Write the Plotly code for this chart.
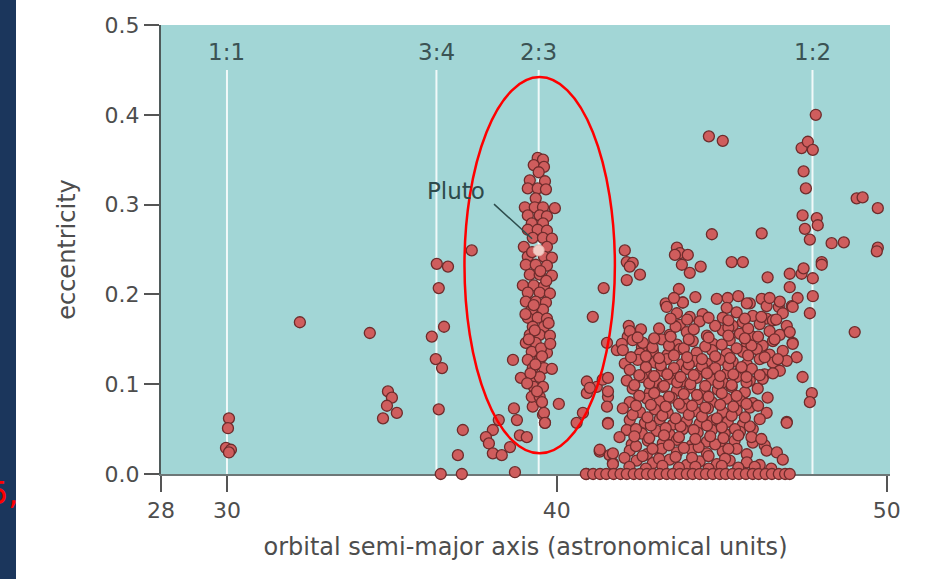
import plotly.graph_objects as go

# ---------------- data ----------------
res_labels = ["1:1", "3:4", "2:3", "1:2"]
res_a = [30.0, 36.35, 39.45, 47.75]

x_ticks = [28, 30, 40, 50]
y_ticks = [0.0, 0.1, 0.2, 0.3, 0.4, 0.5]

trojan_a = [30.06, 30.03, 29.97, 30.12, 30.06]
trojan_e = [0.062, 0.051, 0.029, 0.027, 0.024]

inner_a = [32.21, 34.33, 34.88, 35.0, 34.85, 35.15, 34.73, 36.36, 36.70, 36.42,
           36.58, 36.21, 36.33, 36.52, 36.42, 36.48, 37.12, 37.0, 37.15, 37.42]
inner_e = [0.169, 0.157, 0.092, 0.085, 0.076, 0.068, 0.062, 0.234, 0.231, 0.207,
           0.164, 0.153, 0.128, 0.118, 0.072, 0.0, 0.0, 0.021, 0.049, 0.249]

near_a = [38.67, 38.91, 40.06, 38.7, 38.79, 38.24, 38.06, 37.85, 37.94, 38.06,
          38.33, 38.58, 38.88, 39.09, 38.73, 39.58, 39.64, 39.27, 40.79, 40.6,
          40.91, 41.21, 41.39, 41.55, 41.52, 41.55, 41.3, 41.6, 41.7, 41.82, 40.9]
near_e = [0.127, 0.107, 0.078, 0.073, 0.06, 0.06, 0.049, 0.041, 0.034, 0.023,
          0.021, 0.030, 0.043, 0.041, 0.002, 0.066, 0.057, 0.075, 0.068, 0.057,
          0.09, 0.097, 0.105, 0.086, 0.075, 0.057, 0.025, 0.021, 0.012, 0.138, 0.0]

plutino_a = [39.42, 39.58, 39.30, 39.61, 39.45, 39.18, 39.64, 39.12, 39.42, 39.67,
             39.36, 39.03, 39.33, 39.58, 39.94, 39.12, 39.48, 39.70, 39.24, 39.58,
             39.12, 39.42, 39.70, 39.27, 39.58, 39.85, 39.00, 39.70, 39.12, 39.61,
             39.85, 39.06, 39.36, 39.70, 39.18, 39.48, 39.85, 38.97, 39.30, 39.61,
             39.12, 39.48, 39.79, 39.06, 39.36, 39.67, 39.24, 39.58, 39.12, 39.42,
             39.70, 39.27, 39.61, 39.18, 39.48, 39.79, 39.06, 39.36, 39.24, 39.58,
             39.70, 39.12, 39.48, 39.27, 39.61, 39.85, 39.24, 39.48, 39.30, 39.58,
             39.24, 39.48, 39.61, 39.64, 39.33, 39.52, 39.20, 39.40, 39.55, 39.30,
             39.05, 39.75, 39.15, 39.55, 39.35, 39.80, 39.10, 39.50, 39.25, 39.68]
plutino_e = [0.352, 0.350, 0.344, 0.342, 0.336, 0.327, 0.326, 0.318, 0.318, 0.317,
             0.307, 0.297, 0.297, 0.297, 0.296, 0.288, 0.288, 0.287, 0.279, 0.279,
             0.272, 0.272, 0.271, 0.263, 0.263, 0.262, 0.253, 0.253, 0.242, 0.242,
             0.241, 0.233, 0.233, 0.232, 0.222, 0.222, 0.221, 0.210, 0.210, 0.209,
             0.202, 0.202, 0.201, 0.192, 0.192, 0.191, 0.183, 0.183, 0.174, 0.174,
             0.173, 0.164, 0.164, 0.155, 0.155, 0.154, 0.146, 0.146, 0.136, 0.136,
             0.135, 0.127, 0.127, 0.118, 0.118, 0.117, 0.108, 0.108, 0.097, 0.097,
             0.086, 0.086, 0.068, 0.057, 0.160, 0.140, 0.112, 0.092, 0.080, 0.188,
             0.178, 0.168, 0.150, 0.131, 0.122, 0.145, 0.101, 0.226, 0.247, 0.215]

outer_a = [42.06, 42.12, 42.30, 42.21, 42.52, 42.12, 41.42, 41.09, 43.64, 43.73,
           43.58, 43.97, 43.79, 44.03, 44.36, 44.70, 46.21, 45.30, 45.64, 46.39,
           43.70, 45.18, 43.30, 43.82, 45.85, 46.21, 46.73, 47.12, 47.30, 47.06,
           47.06, 47.42, 47.76, 47.76, 47.67, 47.45, 47.88, 47.91, 47.52, 47.67,
           48.03, 48.03, 48.33, 48.70, 49.73, 49.73, 49.70, 49.03, 42.18, 42.55,
           42.15, 41.52, 42.58, 47.45, 47.73, 47.67, 46.97, 47.27, 47.15, 47.85,
           44.61, 45.03, 47.42, 47.61, 47.76, 47.48, 47.55, 49.09, 49.27, 47.48]
outer_e = [0.249, 0.236, 0.235, 0.231, 0.222, 0.216, 0.207, 0.175, 0.252, 0.246,
           0.244, 0.244, 0.233, 0.224, 0.231, 0.267, 0.268, 0.236, 0.236, 0.219,
           0.206, 0.196, 0.190, 0.191, 0.190, 0.195, 0.186, 0.187, 0.196, 0.208,
           0.223, 0.223, 0.218, 0.198, 0.179, 0.288, 0.285, 0.277, 0.273, 0.261,
           0.236, 0.233, 0.257, 0.258, 0.296, 0.252, 0.248, 0.158, 0.165, 0.161,
           0.153, 0.146, 0.141, 0.108, 0.090, 0.080, 0.058, 0.130, 0.146, 0.400,
           0.376, 0.371, 0.363, 0.370, 0.361, 0.337, 0.318, 0.307, 0.308, 0.229]

core_a = [43.33, 43.82, 45.15, 45.76, 46.36, 46.76, 47.15,
          43.64, 44.03, 44.42, 45.03, 45.45, 45.94, 46.36, 46.85,
          43.73, 44.33, 45.33, 45.64, 46.15, 46.55, 46.97,
          42.21, 43.42, 43.94, 44.55, 45.03, 45.55, 45.94, 46.45, 46.76, 47.06,
          41.97, 42.30, 42.61, 43.18, 43.64, 44.12, 44.73, 45.24, 45.76, 46.24, 46.55, 47.15,
          42.00, 42.52, 42.91, 43.36, 43.73, 44.24, 44.70, 45.15, 45.64, 46.06, 46.45, 46.85,
          42.06, 42.45, 42.97, 43.33, 43.79, 44.18, 44.55, 44.94, 45.33, 45.76, 46.15, 46.55, 46.97,
          42.21, 42.73, 43.18, 43.52, 43.94, 44.33, 44.73, 45.15, 45.55, 45.91, 46.30, 46.76,
          40.91, 41.55, 42.12, 42.58, 43.03, 43.42, 43.82, 44.24, 44.70, 45.03, 45.45, 45.85, 46.24,
          41.00, 41.55, 42.30, 42.82, 43.21, 43.64, 44.03, 44.48, 44.88, 45.30, 45.70, 46.09,
          42.21, 42.73, 43.12, 43.48, 43.88, 44.27, 44.70, 45.15, 45.55, 45.94, 46.39,
          42.00, 42.52, 42.97, 43.36, 43.79, 44.18, 44.58, 45.03, 45.45, 45.85, 46.36,
          41.55, 42.21, 42.67, 43.12, 43.52, 43.94, 44.33, 44.73, 45.18, 45.64, 46.15, 46.97,
          42.12, 42.58, 43.03, 43.42, 43.82, 44.27, 44.70, 45.09, 45.55, 45.94,
          42.27, 42.76, 43.21, 43.64, 44.09, 44.55, 44.94, 45.39, 45.94, 46.30,
          41.30, 41.70, 42.21, 42.73, 43.18, 43.64, 44.09, 44.55, 45.03, 45.45, 45.76, 46.36, 46.67,
          41.70, 42.42, 42.91, 43.42, 43.94, 44.33, 44.85, 45.24, 45.76, 46.15, 46.85]
core_e = [0.186, 0.191, 0.185, 0.190, 0.187, 0.192, 0.186,
          0.179, 0.175, 0.178, 0.174, 0.180, 0.176, 0.173, 0.179,
          0.166, 0.170, 0.165, 0.169, 0.167, 0.171, 0.165,
          0.159, 0.155, 0.158, 0.154, 0.160, 0.156, 0.153, 0.159, 0.155, 0.158,
          0.145, 0.149, 0.146, 0.150, 0.144, 0.148, 0.145, 0.149, 0.146, 0.143, 0.148, 0.145,
          0.138, 0.134, 0.137, 0.133, 0.139, 0.135, 0.138, 0.134, 0.136, 0.139, 0.133, 0.137,
          0.123, 0.127, 0.124, 0.128, 0.122, 0.126, 0.123, 0.127, 0.125, 0.122, 0.128, 0.124, 0.126,
          0.116, 0.112, 0.115, 0.111, 0.117, 0.113, 0.116, 0.112, 0.114, 0.117, 0.111, 0.115,
          0.103, 0.107, 0.104, 0.108, 0.102, 0.106, 0.103, 0.107, 0.105, 0.102, 0.108, 0.104, 0.106,
          0.096, 0.092, 0.095, 0.091, 0.097, 0.093, 0.096, 0.092, 0.094, 0.097, 0.091, 0.095,
          0.080, 0.084, 0.081, 0.085, 0.079, 0.083, 0.080, 0.084, 0.082, 0.079, 0.085,
          0.073, 0.069, 0.072, 0.068, 0.074, 0.070, 0.073, 0.069, 0.071, 0.074, 0.068,
          0.056, 0.060, 0.057, 0.061, 0.055, 0.059, 0.056, 0.060, 0.058, 0.055, 0.061, 0.057,
          0.049, 0.045, 0.048, 0.044, 0.050, 0.046, 0.049, 0.045, 0.047, 0.050,
          0.033, 0.037, 0.034, 0.038, 0.032, 0.036, 0.033, 0.037, 0.035, 0.032,
          0.027, 0.023, 0.026, 0.022, 0.028, 0.024, 0.027, 0.023, 0.025, 0.028, 0.022, 0.026, 0.024,
          0.011, 0.015, 0.012, 0.016, 0.010, 0.014, 0.011, 0.015, 0.013, 0.010, 0.016]

fill_a = [42.40, 42.90, 43.40, 43.85, 44.30, 44.80, 45.20,
          42.40, 42.85, 43.30, 43.75, 44.15, 44.55, 45.00, 45.40, 45.85,
          42.30, 42.75, 43.20, 43.60, 44.00, 44.40, 44.85, 45.30, 45.70,
          42.50, 42.95, 43.40, 43.85, 44.25, 44.60, 45.00, 45.45,
          42.35, 42.80, 43.25, 43.65, 44.05, 44.50, 44.90, 45.30, 45.75,
          42.70, 43.15, 43.55, 44.00, 44.40, 44.80, 45.20, 45.60,
          42.90, 43.40, 43.85, 44.50, 45.00, 45.45, 45.90,
          43.10, 43.60, 44.15, 44.80, 45.20, 45.80,
          42.05, 42.60, 43.10, 43.60, 44.10, 44.60, 45.10]
fill_e = [0.031, 0.028, 0.032, 0.029, 0.030, 0.033, 0.028,
          0.050, 0.054, 0.051, 0.053, 0.049, 0.054, 0.052, 0.050, 0.053,
          0.066, 0.063, 0.065, 0.062, 0.066, 0.064, 0.062, 0.065, 0.063,
          0.087, 0.090, 0.086, 0.089, 0.088, 0.086, 0.090, 0.087,
          0.099, 0.101, 0.098, 0.102, 0.100, 0.098, 0.101, 0.099, 0.102,
          0.119, 0.121, 0.118, 0.122, 0.120, 0.118, 0.121, 0.119,
          0.141, 0.143, 0.140, 0.142, 0.144, 0.140, 0.143,
          0.162, 0.164, 0.161, 0.165, 0.163, 0.162,
          0.018, 0.020, 0.017, 0.019, 0.018, 0.020, 0.017]

dense_a = [42.20, 42.70, 43.20, 43.70, 44.20, 44.60, 45.00, 45.50, 46.00, 46.50,
           41.90, 42.35, 42.80, 43.25, 43.70, 44.20, 44.65, 45.05, 45.50, 45.90, 46.20,
           42.40, 42.85, 43.30, 43.70, 44.10, 44.50, 44.95, 45.35, 45.75, 46.10,
           42.50, 42.95, 43.35, 43.75, 44.15, 44.55, 44.95, 45.35, 45.75, 46.15, 46.55,
           42.25, 42.70, 43.10, 43.55, 43.95, 44.40, 44.80, 45.25, 45.80, 46.30, 46.70,
           42.45, 42.95, 43.45, 44.00, 44.60, 45.20, 45.70, 46.10, 46.60,
           43.45, 43.95, 44.60, 45.20, 45.70, 46.20, 46.65,
           43.55, 44.20, 44.85, 45.50, 46.45]
dense_e = [0.008, 0.006, 0.009, 0.007, 0.008, 0.006, 0.009, 0.007, 0.008, 0.006,
           0.041, 0.042, 0.040, 0.043, 0.041, 0.039, 0.042, 0.040, 0.043, 0.041, 0.039,
           0.076, 0.077, 0.075, 0.078, 0.076, 0.074, 0.077, 0.075, 0.078, 0.076,
           0.110, 0.109, 0.111, 0.108, 0.110, 0.112, 0.109, 0.111, 0.108, 0.110, 0.112,
           0.130, 0.131, 0.129, 0.132, 0.130, 0.128, 0.131, 0.129, 0.132, 0.130, 0.128,
           0.152, 0.151, 0.153, 0.150, 0.152, 0.154, 0.151, 0.153, 0.150,
           0.173, 0.172, 0.174, 0.171, 0.173, 0.175, 0.172,
           0.196, 0.197, 0.195, 0.198, 0.196]

bottom_a = [40.88, 41.10, 41.31, 41.50, 41.72, 41.93, 42.12, 42.33, 42.52, 42.73,
            42.92, 43.12, 43.33, 43.52, 43.73, 43.94, 44.12, 44.33, 44.52, 44.73,
            44.94, 45.12, 45.33, 45.52, 45.73, 45.94, 46.12, 46.33, 46.52, 46.73,
            46.92, 47.06]
bottom_e = [0.0] * len(bottom_a)

pluto_a = [39.45]
pluto_e = [0.249]

# ---------------- figure ----------------
all_a = trojan_a + inner_a + near_a + plutino_a + outer_a + core_a + fill_a + dense_a + bottom_a
all_e = trojan_e + inner_e + near_e + plutino_e + outer_e + core_e + fill_e + dense_e + bottom_e

W, H = 932, 579
ML, MR, MT, MB = 161, 42, 25, 105
PW, PH = W - ML - MR, H - MT - MB

FONT = "DejaVu Sans, Liberation Sans, Arial, sans-serif"

fig = go.Figure()

fig.add_trace(go.Scatter(
    x=all_a, y=all_e, mode="markers", cliponaxis=False, hoverinfo="skip",
    marker=dict(size=11, color="#cf5d5d", line=dict(color="#6e2c2c", width=1.3)),
    showlegend=False))

fig.add_trace(go.Scatter(
    x=pluto_a, y=pluto_e, mode="markers", cliponaxis=False, hoverinfo="skip",
    marker=dict(size=11, color="#f3cdc6", line=dict(color="#e8b0a8", width=1)),
    showlegend=False))

shapes = []
for a in res_a:
    shapes.append(dict(type="line", xref="x", yref="y", x0=a, x1=a, y0=0, y1=0.45,
                       line=dict(color="rgba(255,255,255,0.85)", width=2), layer="below"))

# red ellipse highlighting the 2:3 resonance
shapes.append(dict(type="circle", xref="x", yref="y", x0=37.2, x1=41.76, y0=0.023, y1=0.442,
                   line=dict(color="#ff0000", width=2.5), layer="above"))

# dark strip at the left edge
shapes.append(dict(type="rect", xref="paper", yref="paper",
                   x0=-ML / PW, x1=-(ML - 16) / PW, y0=-MB / PH, y1=1 + MT / PH,
                   fillcolor="#1b365c", line=dict(width=0), layer="below"))

annotations = []
for lab, a in zip(res_labels, res_a):
    annotations.append(dict(x=a, y=0.47, xref="x", yref="y", text=lab, showarrow=False,
                            font=dict(size=23, color="#3b5354", family=FONT)))

annotations.append(dict(x=39.25, y=0.262, xref="x", yref="y", ax=38.05, ay=0.302,
                        axref="x", ayref="y", text="", showarrow=True, arrowhead=0,
                        arrowwidth=1.5, arrowcolor="#2e4d4d"))
annotations.append(dict(x=36.95, y=0.315, xref="x", yref="y", text="Pluto", showarrow=False,
                        font=dict(size=23, color="#2e4a4b", family=FONT)))

annotations.append(dict(x=(21 - ML) / PW, y=-19 / PH, xref="paper", yref="paper",
                        text="5,", showarrow=False, xanchor="right", yanchor="middle",
                        font=dict(size=32, color="#ff0000", family=FONT)))

fig.update_layout(
    width=W, height=H,
    margin=dict(l=ML, r=MR, t=MT, b=MB),
    paper_bgcolor="white", plot_bgcolor="#a2d6d6",
    font=dict(family=FONT, color="#4a4a4a"),
    shapes=shapes, annotations=annotations,
    xaxis=dict(range=[28, 50.1], tickvals=x_ticks, ticks="outside", ticklen=16,
               tickwidth=2, tickcolor="#555", showline=True, linecolor="#6d7777",
               linewidth=2, showgrid=False, zeroline=False, layer="below traces",
               tickfont=dict(size=22, color="#4d4d4d"),
               title=dict(text="orbital semi-major axis (astronomical units)",
                          font=dict(size=24, color="#4d4d4d"), standoff=16)),
    yaxis=dict(range=[0, 0.5], tickvals=y_ticks, tickformat=".1f", ticks="outside",
               ticklen=15, tickwidth=2, tickcolor="#555", showline=True,
               linecolor="#4f5a5a", linewidth=2, showgrid=False, zeroline=False,
               layer="below traces",
               tickfont=dict(size=22, color="#4d4d4d"),
               title=dict(text="eccentricity", font=dict(size=24, color="#4d4d4d"),
                          standoff=22)),
)

fig.write_html("out.html")
